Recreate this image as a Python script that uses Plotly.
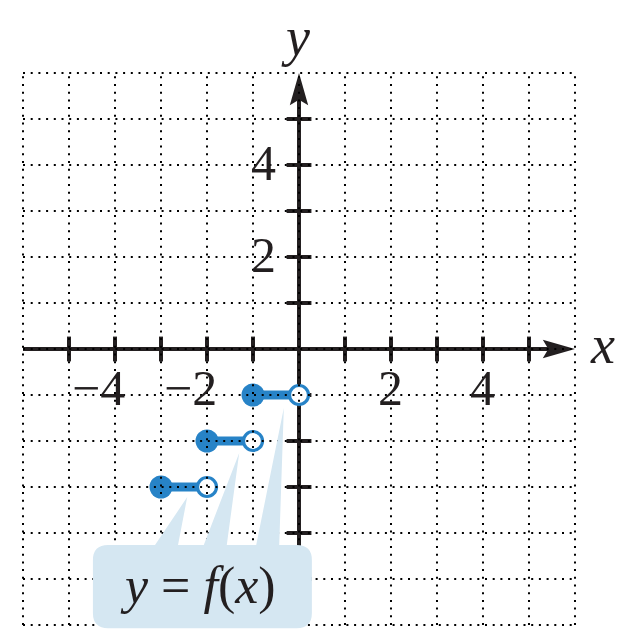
import plotly.graph_objects as go

# ---- data ----
seg_x_start = [-3, -2, -1]
seg_x_end = [-2, -1, 0]
seg_y = [-3, -2, -1]

grid_vals = list(range(-6, 7))
x_ticks = [-5, -4, -3, -2, -1, 1, 2, 3, 4, 5]
y_ticks = [-5, -4, -3, -2, -1, 1, 2, 3, 4, 5]
x_label_vals = [-4, -2, 2, 4]
x_label_text = ["\u22124", "\u22122", "2", "4"]
y_label_vals = [2, 4]
y_label_text = ["2", "4"]

BLUE = "#2783c7"
BOX = "#d5e7f2"
INK = "#231f20"
FONT = "Liberation Serif"

fig = go.Figure()

# segments
for xs, xe, yv in zip(seg_x_start, seg_x_end, seg_y):
    fig.add_trace(go.Scatter(x=[xs, xe], y=[yv, yv], mode="lines",
                             line=dict(color=BLUE, width=9), hoverinfo="skip",
                             showlegend=False))
# closed endpoints
fig.add_trace(go.Scatter(x=seg_x_start, y=seg_y, mode="markers",
                         marker=dict(size=23, color=BLUE, line=dict(width=0)),
                         hoverinfo="skip", showlegend=False))
# open endpoints
fig.add_trace(go.Scatter(x=seg_x_end, y=seg_y, mode="markers",
                         marker=dict(size=19, color="white",
                                     line=dict(width=3.2, color=BLUE)),
                         hoverinfo="skip", showlegend=False))

shapes = []
# axes (below traces)
shapes.append(dict(type="line", x0=-6, x1=5.5, y0=0, y1=0, xref="x", yref="y",
                   layer="below", line=dict(color=INK, width=4)))
shapes.append(dict(type="line", x0=0, x1=0, y0=-6, y1=5.5, xref="x", yref="y",
                   layer="below", line=dict(color=INK, width=4)))
shapes.append(dict(type="path", path="M 6 0 L 5.3 0.2 L 5.42 0 L 5.3 -0.2 Z",
                   xref="x", yref="y", layer="below", fillcolor=INK,
                   line=dict(width=0)))
shapes.append(dict(type="path", path="M 0 6 L 0.2 5.3 L 0 5.42 L -0.2 5.3 Z",
                   xref="x", yref="y", layer="below", fillcolor=INK,
                   line=dict(width=0)))
for t in x_ticks:
    shapes.append(dict(type="line", x0=t, x1=t, y0=-0.27, y1=0.27, xref="x",
                       yref="y", layer="below", line=dict(color=INK, width=4)))
for t in y_ticks:
    shapes.append(dict(type="line", x0=-0.27, x1=0.27, y0=t, y1=t, xref="x",
                       yref="y", layer="below", line=dict(color=INK, width=4)))

# dotted grid (above traces)
for g in grid_vals:
    shapes.append(dict(type="line", x0=g, x1=g, y0=-6, y1=6, xref="x", yref="y",
                       layer="above", line=dict(color="black", width=2, dash="2px,5.7px")))
    shapes.append(dict(type="line", x0=-6, x1=6, y0=g, y1=g, xref="x", yref="y",
                       layer="above", line=dict(color="black", width=2, dash="2px,5.7px")))

# callout box with pointers
x0, x1, yb, yt, r = -4.48, 0.28, -6.07, -4.26, 0.33
pointers = [(-3.13, -2.63, -2.43, -3.22), (-2.07, -1.57, -1.30, -2.26),
            (-0.93, -0.43, -0.33, -1.28)]
p = f"M {x0 + r} {yt} "
for bl, br, tx, ty in pointers:
    p += f"L {bl} {yt} L {tx} {ty} L {br} {yt} "
p += f"L {x1 - r} {yt} Q {x1} {yt} {x1} {yt - r} L {x1} {yb + r} Q {x1} {yb} {x1 - r} {yb} "
p += f"L {x0 + r} {yb} Q {x0} {yb} {x0} {yb + r} L {x0} {yt - r} Q {x0} {yt} {x0 + r} {yt} Z"
shapes.append(dict(type="path", path=p, xref="x", yref="y", layer="above",
                   fillcolor=BOX, line=dict(width=0)))

annotations = []
for v, s in zip(x_label_vals, x_label_text):
    if v < 0:
        annotations.append(dict(x=v, y=-0.84, text=s, showarrow=False, xanchor="right",
                                xshift=12, yanchor="middle",
                                font=dict(family=FONT, size=50, color=INK)))
    else:
        annotations.append(dict(x=v, y=-0.84, text=s, showarrow=False, xanchor="center",
                                yanchor="middle", font=dict(family=FONT, size=50, color=INK)))
for v, s in zip(y_label_vals, y_label_text):
    annotations.append(dict(x=-0.46, y=v + 0.05, text=s, showarrow=False, xanchor="right",
                            yanchor="middle", font=dict(family=FONT, size=50, color=INK)))
annotations.append(dict(x=-0.07, y=6.78, text="<i>y</i>", showarrow=False,
                        font=dict(family=FONT, size=54, color=INK)))
annotations.append(dict(x=6.59, y=0.09, text="<i>x</i>", showarrow=False,
                        font=dict(family=FONT, size=54, color=INK)))
annotations.append(dict(x=-2.2, y=-5.15, text="<i>y</i> = <i>f</i>(<i>x</i>)",
                        showarrow=False, font=dict(family=FONT, size=52, color=INK)))

# the page body adds an 8px offset; ranges are chosen so that 1 unit = 46px
fig.update_layout(
    width=625, height=640,
    margin=dict(l=0, r=0, t=0, b=0),
    paper_bgcolor="white", plot_bgcolor="white",
    xaxis=dict(range=[-6.326, 7.261], visible=False, fixedrange=True),
    yaxis=dict(range=[-6.5, 7.413], visible=False, fixedrange=True),
    shapes=shapes, annotations=annotations, showlegend=False,
)

fig.write_html("out.html")
